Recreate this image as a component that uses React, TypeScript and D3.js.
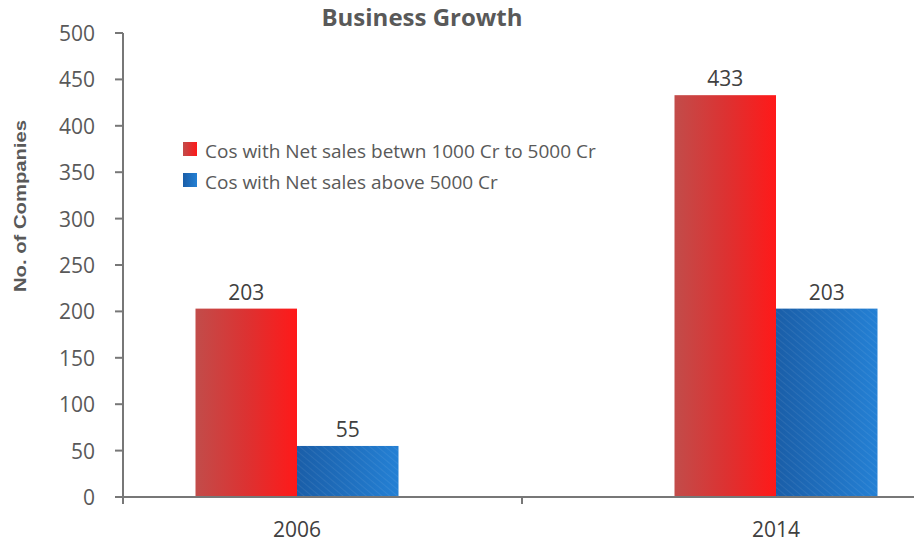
import React from "react";
import * as d3 from "d3";

const categories = ["2006", "2014"];
const seriesNames = [
  "Cos with Net sales betwn 1000 Cr to 5000 Cr",
  "Cos with Net sales above 5000 Cr",
];
const midRange = [203, 433];
const above5000 = [55, 203];
const yTicks = [0, 50, 100, 150, 200, 250, 300, 350, 400, 450, 500];

const W = 914;
const H = 542;
const FONT = "'Open Sans', sans-serif";

export default function App() {
  const y = d3.scaleLinear().domain([0, 500]).range([497, 33]);
  const xBand = d3.scaleBand().domain(categories).range([123, 921]);
  const xCenter = d3.scalePoint().domain(categories).range([297, 776]);
  const barW = 101.5;
  const series = [midRange, above5000];
  const fills = ["url(#gRed)", "url(#gBlue)"];

  return (
    <svg width={W} height={H} style={{ position: "absolute", left: 0, top: 0, background: "#fff" }}>
      <defs>
        <linearGradient id="gRed" x1="0" x2="1" y1="0" y2="0">
          <stop offset="0" stopColor="#c24c4a" />
          <stop offset="0.5" stopColor="#dc3232" />
          <stop offset="1" stopColor="#ff1919" />
        </linearGradient>
        <linearGradient id="gBlue" x1="0" x2="1" y1="0" y2="0">
          <stop offset="0" stopColor="#1a5ea8" />
          <stop offset="1" stopColor="#2480d4" />
        </linearGradient>
        <pattern id="hatch" width="5" height="5" patternUnits="userSpaceOnUse" patternTransform="rotate(-50)">
          <line x1="0" y1="0" x2="0" y2="5" stroke="#ffffff" strokeOpacity="0.07" strokeWidth="2" />
        </pattern>
      </defs>
      <text x={422} y={26} textAnchor="middle" fontFamily={FONT} fontWeight="bold" fontSize={24} fill="#595959">
        Business Growth
      </text>
      <text
        transform="translate(26,206) rotate(-90)"
        textAnchor="middle"
        fontFamily="'Liberation Sans', Arial, sans-serif"
        fontWeight="bold"
        fontSize={16}
        fill="#595959"
        textLength={172}
        lengthAdjust="spacingAndGlyphs"
      >
        No. of Companies
      </text>
      {yTicks.map((t) => (
        <g key={t}>
          <line x1={115} x2={123} y1={y(t)} y2={y(t)} stroke="#777" strokeWidth={2} />
          <text x={95} y={y(t) + 8} textAnchor="end" fontFamily={FONT} fontSize={21} fill="#595959">
            {t}
          </text>
        </g>
      ))}
      {categories.map((c, i) =>
        series.map((s, j) => {
          const x0 = (xCenter(c) as number) - barW + j * barW;
          return (
            <g key={c + j}>
              <rect x={x0} y={y(s[i])} width={barW} height={y(0) - y(s[i])} fill={fills[j]} />
              {j === 1 && (
                <rect x={x0} y={y(s[i])} width={barW} height={y(0) - y(s[i])} fill="url(#hatch)" />
              )}
              <text x={x0 + barW / 2} y={y(s[i]) - 9} textAnchor="middle" fontFamily={FONT} fontSize={21} fill="#404040">
                {s[i]}
              </text>
            </g>
          );
        })
      )}
      <line x1={123} x2={123} y1={33} y2={497} stroke="#777" strokeWidth={2} />
      <line x1={115} x2={W} y1={497} y2={497} stroke="#777" strokeWidth={2} />
      {categories.slice(1).map((c) => (
        <line key={c} x1={xBand(c)} x2={xBand(c)} y1={497} y2={504} stroke="#777" strokeWidth={2} />
      ))}
      <line x1={123} x2={123} y1={497} y2={504} stroke="#777" strokeWidth={2} />
      {categories.map((c) => (
        <text key={c} x={xCenter(c)} y={537} textAnchor="middle" fontFamily={FONT} fontSize={21} fill="#404040">
          {c}
        </text>
      ))}
      {seriesNames.map((n, j) => (
        <g key={n}>
          <rect x={183} y={142 + j * 31} width={14} height={14} fill={fills[j]} />
          <text x={205} y={158 + j * 31} fontFamily={FONT} fontSize={19} fill="#595959">
            {n}
          </text>
        </g>
      ))}
    </svg>
  );
}
